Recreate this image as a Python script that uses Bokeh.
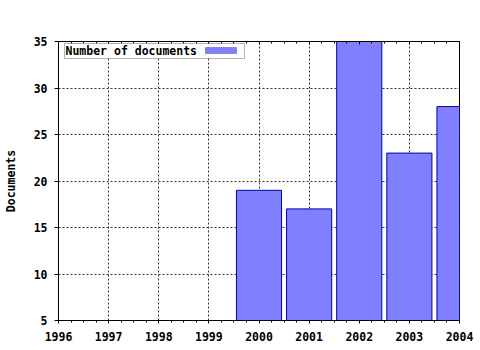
from bokeh.plotting import figure
from bokeh.models import (ColumnDataSource, FixedTicker, LinearAxis, Range1d,
                          BoxAnnotation, Label)
from bokeh.embed import file_html
from bokeh.resources import INLINE

years = [2000, 2001, 2002, 2003, 2004]
documents = [19, 17, 35, 23, 28]
x_ticks = [1996, 1997, 1998, 1999, 2000, 2001, 2002, 2003, 2004]
y_ticks = [5, 10, 15, 20, 25, 30, 35]
series_name = "Number of documents"
y_title = "Documents"

FONT = "DejaVu Sans Mono"
FSIZE = "11.5px"
FILL = "#8080ff"
EDGE = "#0000a0"

p = figure(width=480, height=350, output_backend="svg", toolbar_location=None,
           x_range=Range1d(1996, 2004), y_range=Range1d(5, 35),
           min_border_left=57, min_border_right=21, min_border_top=41,
           min_border_bottom=30, x_axis_location=None, y_axis_location=None)
p.background_fill_color = "white"
p.border_fill_color = "white"
p.outline_line_color = "black"
p.outline_line_width = 1

src = ColumnDataSource(dict(year=years, docs=documents))
p.vbar(x="year", top="docs", bottom=0, width=0.9, source=src,
       fill_color=FILL, line_color=EDGE, line_width=1)

minor = [x_ticks[0] + 0.25 * i for i in range(4 * (len(x_ticks) - 1) + 1)]

xa = LinearAxis(ticker=FixedTicker(ticks=x_ticks, minor_ticks=minor))
xa.major_tick_out = 3
xa.major_tick_in = 0
xa.minor_tick_out = 2
xa.minor_tick_in = 0
xa.major_label_standoff = 8
xa.major_label_text_font = FONT
xa.major_label_text_font_size = FSIZE
xa.major_label_text_font_style = "bold"
xa.major_label_text_color = "black"
xa.axis_line_color = "black"
xa.major_tick_line_color = "black"
xa.minor_tick_line_color = "black"
p.add_layout(xa, "below")

# top frame edge: ticks pointing inward, no labels
ta = LinearAxis(ticker=FixedTicker(ticks=x_ticks, minor_ticks=minor))
ta.major_tick_out = 0
ta.major_tick_in = 3
ta.minor_tick_out = 0
ta.minor_tick_in = 2
ta.major_label_overrides = {t: "" for t in x_ticks}
ta.major_label_standoff = 0
ta.axis_line_color = "black"
ta.major_tick_line_color = "black"
ta.minor_tick_line_color = "black"
p.add_layout(ta, "above")

ya = LinearAxis(ticker=FixedTicker(ticks=y_ticks, minor_ticks=[]))
ya.major_tick_out = 4
ya.major_tick_in = 0
ya.minor_tick_out = 0
ya.minor_tick_in = 0
ya.major_label_standoff = 7
ya.major_label_text_font = FONT
ya.major_label_text_font_size = FSIZE
ya.major_label_text_font_style = "bold"
ya.major_label_text_color = "black"
ya.axis_label = y_title
ya.axis_label_text_font = FONT
ya.axis_label_text_font_size = FSIZE
ya.axis_label_text_font_style = "bold"
ya.axis_label_text_color = "black"
ya.axis_label_standoff = 13
ya.axis_line_color = "black"
ya.major_tick_line_color = "black"
p.add_layout(ya, "left")

p.xgrid.ticker = FixedTicker(ticks=x_ticks)
p.ygrid.ticker = FixedTicker(ticks=y_ticks)
for g in (p.xgrid, p.ygrid):
    g.grid_line_color = "#333333"
    g.grid_line_dash = "2 2"
    g.grid_line_width = 1

# legend (label first, swatch on the right, as in the original)
p.add_layout(BoxAnnotation(left=6, right=186, top=277, bottom=262,
                           left_units="screen", right_units="screen",
                           top_units="screen", bottom_units="screen",
                           fill_color="white", fill_alpha=1,
                           line_color="black", line_width=1))
p.add_layout(BoxAnnotation(left=147, right=178, top=273, bottom=267,
                           left_units="screen", right_units="screen",
                           top_units="screen", bottom_units="screen",
                           fill_color=FILL, fill_alpha=1,
                           line_color=EDGE, line_width=1))
p.add_layout(Label(x=7, y=269.5, x_units="screen", y_units="screen",
                   text=series_name, text_font=FONT, text_font_size=FSIZE,
                   text_font_style="bold", text_baseline="middle",
                   text_color="black"))

open("out.html", "w").write(file_html(p, INLINE))
